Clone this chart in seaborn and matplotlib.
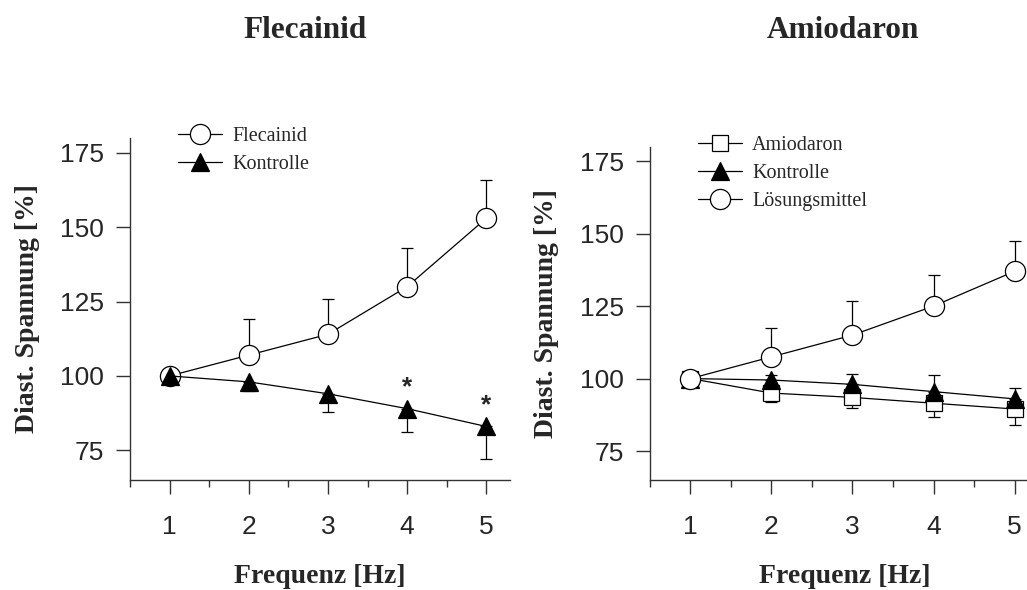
import matplotlib
matplotlib.use("Agg")
import matplotlib.pyplot as plt
import pandas as pd
import seaborn as sns
from matplotlib.ticker import MultipleLocator

# Data
freq = [1, 2, 3, 4, 5]

# Flecainid panel
flec_mean = [100, 107, 114, 130, 153]
flec_err_up = [0, 12, 12, 13, 13]
kontr1_mean = [100, 98, 94, 89, 83]
kontr1_err_down = [0, 3, 6, 8, 11]
stars_at = [4, 5]

# Amiodaron panel
amio_mean = [100, 95, 93.5, 91.5, 89.5]
amio_err_down = [0, 3.2, 3.7, 4.9, 5.4]
kontr2_mean = [100, 99.5, 98, 95.5, 93]
kontr2_err_up = [0, 1.8, 3.5, 5.8, 3.7]
loes_mean = [100, 107.5, 115, 125, 137]
loes_err_up = [0, 10, 11.7, 10.8, 10.6]

yticks = [75, 100, 125, 150, 175]

sns.set_style("white")
serif = "Liberation Serif"
sans = "Liberation Sans"
plt.rcParams["font.family"] = [sans, "DejaVu Sans"]

fig = plt.figure(figsize=(10.27, 5.9), dpi=100)
ax1 = fig.add_axes([0.1266, 0.1864, 0.370, 0.5797])
ax2 = fig.add_axes([0.6329, 0.1864, 0.3786, 0.565])


def series(ax, y, label, marker, filled, ms, err=None, up=True):
    df = pd.DataFrame({"x": freq, "y": y})
    if err is not None:
        lo = [0] * len(err) if up else err
        hi = err if up else [0] * len(err)
        ax.errorbar(df["x"], df["y"], yerr=[lo, hi], fmt="none", ecolor="black",
                    elinewidth=0.9, capsize=4.5, capthick=0.9, zorder=1.5)
    sns.lineplot(data=df, x="x", y="y", ax=ax, color="black", lw=0.9,
                 marker=marker, markersize=ms,
                 markerfacecolor="black" if filled else "white",
                 markeredgecolor="black", markeredgewidth=0.9,
                 label=label, zorder=2)


# left panel
series(ax1, flec_mean, "Flecainid", "o", False, 14.5, flec_err_up, up=True)
series(ax1, kontr1_mean, "Kontrolle", "^", True, 13, kontr1_err_down, up=False)
for s in stars_at:
    yv = kontr1_mean[freq.index(s)]
    ax1.annotate("*", (s, yv), xytext=(0, 15), textcoords="offset points",
                 ha="center", va="center", fontsize=19, fontweight="bold")

# right panel
series(ax2, amio_mean, "Amiodaron", "s", False, 11.5, amio_err_down, up=False)
series(ax2, kontr2_mean, "Kontrolle", "^", True, 13, kontr2_err_up, up=True)
series(ax2, loes_mean, "Lösungsmittel", "o", False, 14.5, loes_err_up, up=True)

for ax, h in ((ax1, 342), (ax2, 333.3)):
    w = 380 if ax is ax1 else 388.8
    ax.set_xlim(0.5, 5.3)
    ax.set_ylim(65, 180)
    ax.set_xticks(freq)
    ax.xaxis.set_minor_locator(MultipleLocator(0.5))
    ax.set_yticks(yticks)
    sns.despine(ax=ax)
    for sp in ("left", "bottom"):
        ax.spines[sp].set_color("#333333")
        ax.spines[sp].set_linewidth(1.0)
    ax.tick_params(axis="x", which="major", direction="out", length=10, width=1,
                   pad=15, labelsize=19, color="#333333", bottom=True)
    ax.tick_params(axis="x", which="minor", direction="out", length=5, width=1,
                   color="#333333", bottom=True)
    ax.tick_params(axis="y", which="major", direction="out", length=10, width=1,
                   pad=9, labelsize=19, color="#333333", left=True)
    ax.set_xlabel("Frequenz [Hz]", family=serif, fontweight="bold", fontsize=20,
                  va="center")
    ax.set_ylabel("Diast. Spannung [%]", family=serif, fontweight="bold",
                  fontsize=20, va="center")
    ax.xaxis.set_label_coords(0.5, -96 / h)
    ax.yaxis.set_label_coords(-103 / w, 0.5)

leg_kw = dict(loc="upper left", frameon=False, prop={"family": serif, "size": 14.5},
              handlelength=2.2, handletextpad=0.5, labelspacing=0.45,
              borderpad=0, borderaxespad=0)
ax1.legend(bbox_to_anchor=(0.126, 1.032), **leg_kw)
ax2.legend(bbox_to_anchor=(0.123, 1.032), **leg_kw)

fig.text(305 / 1027, 1 - 30 / 590, "Flecainid", family=serif, fontweight="bold",
         fontsize=22.5, ha="center", va="center")
fig.text(843 / 1027, 1 - 30 / 590, "Amiodaron", family=serif, fontweight="bold",
         fontsize=22.5, ha="center", va="center")

fig.savefig("out.png", dpi=100)
